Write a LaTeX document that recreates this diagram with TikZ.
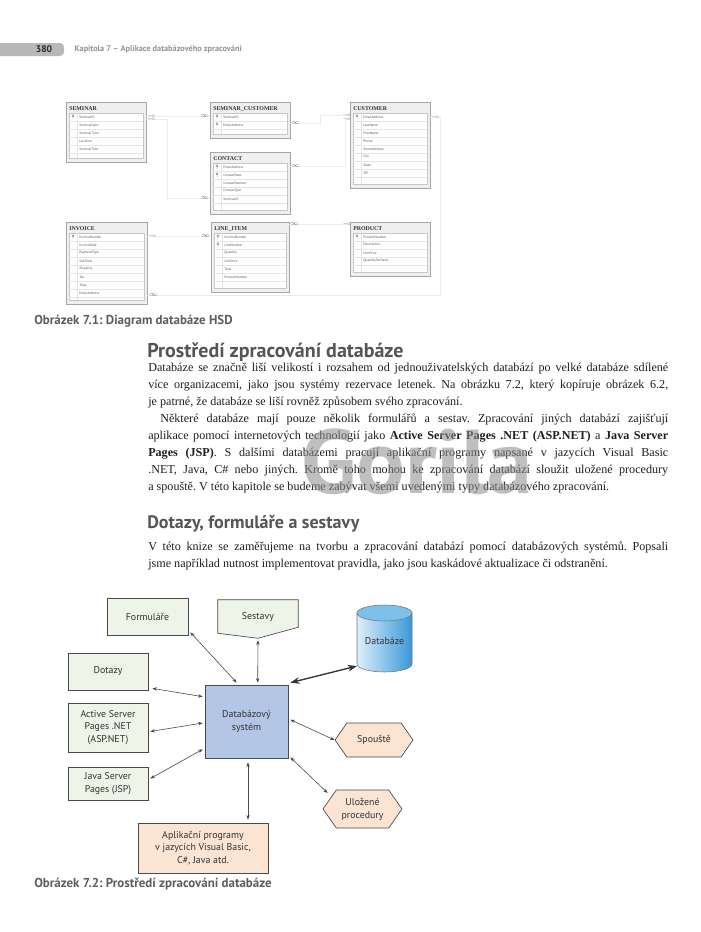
\documentclass[tikz,border=0pt]{standalone}
\usepackage{fontspec}
\setmainfont{Liberation Serif}
\setsansfont{PT Sans}
\usepackage{amssymb}
\usetikzlibrary{positioning,arrows.meta,calc,fit,shapes.geometric,shapes.symbols}
\definecolor{boxgreen}{HTML}{EEF4E8}
\definecolor{boxpeach}{HTML}{FBE4D2}
\definecolor{boxblue}{HTML}{B3C6E6}
\definecolor{edge}{HTML}{4A4A4A}
\definecolor{headgray}{HTML}{555555}
\definecolor{capgray}{HTML}{5E5E5E}
\definecolor{tblline}{HTML}{A6A6A6}
\definecolor{tblfill}{HTML}{EFEFEF}
\definecolor{cylLight}{HTML}{DCEFFB}
\definecolor{cylDark}{HTML}{3A98D8}
\definecolor{cylTop}{HTML}{7CC0EC}

% ER table: name, left, top, right, bottom, title, rows (key/field)
\newcommand{\dbtable}[7]{%
  \node[tblframe, fit={(#2,#3) (#4,#5)}] (#1) {};
  \node[tbltitle, anchor=west] (#1-title) at (#2+3,#3+7) {#6};
  \draw[tblinner] (#2+3,#3+11) rectangle (#4-3,#5-4);
  \draw[tblrow] (#2+11,#3+11) -- (#2+11,#5-4);
  \foreach \k/\fld [count=\i] in {#7} {
    \pgfmathsetmacro{\ry}{#3+15+(\i-1)*8}
    \draw[tblrow] (#2+3,\ry+4) -- (#4-3,\ry+4);
    \node[tblfield, anchor=west] at (#2+13,\ry) {\fld};
    \ifnum\k=1
      \draw[keymark] (#2+7,\ry-1.2) circle[radius=1.1] (#2+7,\ry-0.1) -- (#2+7,\ry+2.2);
    \fi
  }%
}

\begin{document}
\frenchspacing
\begin{tikzpicture}[
  x=0.75pt, y=-0.75pt,
  tblframe/.style={draw=tblline, fill=tblfill, line width=0.5pt, inner sep=0pt},
  tbltitle/.style={font=\fontsize{4.4pt}{5pt}\selectfont\bfseries, text=black!80, inner sep=0pt},
  tblinner/.style={draw=black!22, fill=white, line width=0.3pt},
  tblrow/.style={draw=black!10, line width=0.25pt},
  tblfield/.style={font=\sffamily\fontsize{2.6pt}{3pt}\selectfont, text=black!65, inner sep=0pt},
  keymark/.style={draw=black!55, line width=0.3pt},
  rel/.style={draw=black!42, double=black!8, double distance=0.45pt, line width=0.35pt},
  endmark/.style={font=\fontsize{4pt}{4pt}\selectfont, text=black!55, inner sep=0pt},
  body/.style={font=\fontsize{9.1pt}{12.75pt}\selectfont, text=black!88, inner sep=0pt,
               text width=390pt, align=justify},
  caption/.style={font=\sffamily\bfseries\fontsize{9.7pt}{11pt}\selectfont, text=capgray, inner sep=0pt},
  gbox/.style={draw=edge, fill=boxgreen, line width=0.5pt, font=\sffamily\fontsize{7.4pt}{9.6pt}\selectfont,
               text=black!80, align=center, inner sep=1pt},
  pbox/.style={draw=edge, fill=boxpeach, line width=0.5pt, font=\sffamily\fontsize{7.4pt}{9.6pt}\selectfont,
               text=black!80, align=center, inner sep=1pt},
  hexa/.style={pbox, shape=signal, signal to=east and west, signal pointer angle=110},
  lbl/.style={font=\sffamily\fontsize{7.4pt}{9.6pt}\selectfont, text=black!80, align=center, inner sep=0pt},
  link/.style={{Stealth[length=3.4pt,width=2.6pt]}-{Stealth[length=3.4pt,width=2.6pt]}, draw=edge, line width=0.45pt},
  biglink/.style={{Stealth[length=7pt,width=5pt]}-{Stealth[length=7pt,width=5pt]}, draw=black!80, line width=1pt}
]
\useasboundingbox (0,0) rectangle (700,932);
\fill[white] (0,0) rectangle (700,932);

% Running head
\fill[black!28, rounded corners=3pt] (-6,43) rectangle (64,56);
\node[font=\sffamily\bfseries\fontsize{7.2pt}{8pt}\selectfont, text=black!85] (pageno) at (44,49.5) {380};
\node[font=\sffamily\bfseries\fontsize{6.2pt}{7pt}\selectfont, text=black!42, anchor=west] (runhead) at (70,49.5)
  {Kapitola 7 – Aplikace databázového zpracování};

% ER diagram
\dbtable{seminar}{66}{102}{146}{162}{SEMINAR}{1/SeminarID,0/SeminarDate,0/SeminarTime,0/Location,0/SeminarTitle}
\dbtable{semcust}{210}{102}{290}{138}{SEMINAR\_CUSTOMER}{1/SeminarID,1/EmailAddress}
\dbtable{contact}{210}{152}{290}{214}{CONTACT}{1/EmailAddress,1/ContactDate,0/ContactNumber,0/ContactType,0/SeminarID}
\dbtable{customer}{350}{102}{430}{188}{CUSTOMER}{1/EmailAddress,0/LastName,0/FirstName,0/Phone,0/StreetAddress,0/City,0/State,0/ZIP}
\dbtable{invoice}{66}{222}{147}{304}{INVOICE}{1/InvoiceNumber,0/InvoiceDate,0/PaymentType,0/SubTotal,0/Shipping,0/Tax,0/Total,0/EmailAddress}
\dbtable{lineitem}{211}{222}{289}{292}{LINE\_ITEM}{1/InvoiceNumber,1/LineNumber,0/Quantity,0/UnitPrice,0/Total,0/ProductNumber}
\dbtable{product}{350}{222}{430}{276}{PRODUCT}{1/ProductNumber,0/Description,0/UnitPrice,0/QuantityOnHand}

% Relationships
\draw[rel] ($(seminar.north east)+(0,15)$) -- ($(semcust.north west)+(0,15)$);
\draw[rel] ($(seminar.north east)+(0,18)$) -- ++(21,0) |- ($(contact.north west)+(0,47)$);
\draw[rel] ($(semcust.north east)+(0,22)$) -- ++(30,0) |- ($(customer.north west)+(0,14)$);
\draw[rel] ($(contact.north east)+(0,15)$) -- ++(55,0) |- ($(customer.north west)+(0,18)$);
\draw[rel] ($(customer.north east)+(0,16)$) -- ++(10,0) |- ($(invoice.north east)+(0,74)$);
\draw[rel] ($(invoice.north east)+(0,15)$) -- ($(lineitem.north west)+(0,15)$);
\draw[rel] ($(lineitem.north east)+(0,3)$) -- ($(product.north west)+(0,3)$);

% Relationship ends
\node[endmark] at ($(seminar.north east)+(5,14.6)$) {$\multimap$};
\node[endmark] at ($(seminar.north east)+(5,17.6)$) {$\multimap$};
\node[endmark] at ($(semcust.north west)+(-5,14.6)$) {$\infty$};
\node[endmark] at ($(contact.north west)+(-5,46.6)$) {$\infty$};
\node[endmark] at ($(semcust.north east)+(5,21.6)$) {$\infty$};
\node[endmark] at ($(contact.north east)+(5,14.6)$) {$\infty$};
\node[endmark] at ($(customer.north west)+(-3,13.6)$) {$\multimap$};
\node[endmark] at ($(customer.north west)+(-3,17.6)$) {$\multimap$};
\node[endmark] at ($(customer.north east)+(5,15.6)$) {$\multimap$};
\node[endmark] at ($(invoice.north east)+(6,73.6)$) {$\infty$};
\node[endmark] at ($(invoice.north east)+(5,14.6)$) {$\multimap$};
\node[endmark] at ($(lineitem.north west)+(-5,14.6)$) {$\infty$};
\node[endmark] at ($(lineitem.north east)+(5,2.6)$) {$\infty$};
\node[endmark] at ($(product.north west)+(-3,2.6)$) {$\multimap$};

\node[caption, anchor=west] (cap1) at (34,321) {Obrázek 7.1: Diagram databáze HSD};

% Section text
\node[font=\sffamily\bfseries\fontsize{15pt}{17pt}\selectfont, text=headgray, anchor=west, inner sep=0pt]
  (head1) at (147,352) {Prostředí zpracování databáze};
\node[body, anchor=north west] (para1) at (148,362.5)
  {Databáze se značně liší velikostí i rozsahem od jednouživatelských databází po velké databáze sdílené\linebreak
   více organizacemi, jako jsou systémy rezervace letenek. Na obrázku 7.2, který kopíruje obrázek 6.2,\linebreak
   je patrné, že databáze se liší rovněž způsobem svého zpracování.\par
   \hspace*{9pt}Některé databáze mají pouze několik formulářů a sestav. Zpracování jiných databází zajišťují\linebreak
   aplikace pomocí internetových technologií jako \textbf{Active Server Pages .NET (ASP.NET)} a \textbf{Java Server}\linebreak
   \textbf{Pages (JSP)}. S dalšími databázemi pracují aplikační programy napsané v jazycích Visual Basic\linebreak
   .NET, Java, C\# nebo jiných. Kromě toho mohou ke zpracování databází sloužit uložené procedury\linebreak
   a spouště. V této kapitole se budeme zabývat všemi uvedenými typy databázového zpracování.};
\node[font=\sffamily\bfseries\fontsize{13.5pt}{15pt}\selectfont, text=headgray, anchor=west, inner sep=0pt]
  (head2) at (147,524) {Dotazy, formuláře a sestavy};
\node[body, anchor=north west] (para2) at (148,541.5)
  {V této knize se zaměřujeme na tvorbu a zpracování databází pomocí databázových systémů. Popsali\linebreak
   jsme například nutnost implementovat pravidla, jako jsou kaskádové aktualizace či odstranění.};

% Processing environment
\node[gbox, minimum width=60.75pt, minimum height=27.75pt] (form) at (147.5,616.5) {Formuláře};
\node[lbl, minimum width=60pt, minimum height=25.5pt] (sest) at (258,617) {Sestavy};
\node[gbox, minimum width=60pt, minimum height=27.75pt] (dotazy) at (108,671.5) {Dotazy};
\node[gbox, minimum width=62.25pt, minimum height=54.75pt, fill=boxblue] (sys) at (246.5,721.5) {Databázový\\systém};
\node[gbox, minimum width=60pt, minimum height=36.75pt] (asp) at (108,727.5) {Active Server\\Pages .NET\\(ASP.NET)};
\node[gbox, minimum width=60pt, minimum height=24.75pt] (jsp) at (108,783.5) {Java Server\\Pages (JSP)};
\node[pbox, minimum width=97.5pt, minimum height=37.5pt] (apps) at (203,848) {Aplikační programy\\v jazycích Visual Basic,\\C\#, Java atd.};
\node[hexa, minimum width=58.5pt, minimum height=25.5pt] (spoust) at (374,740) {Spouště};
\node[hexa, minimum width=59.25pt, minimum height=28.5pt] (ulozene) at (362.5,809) {Uložené\\procedury};

% Sestavy document shape
\filldraw[draw=edge, fill=boxgreen, line width=0.5pt]
  (sest.north west) -- (sest.north east) -- ($(sest.south east)+(0,-7)$)
  -- ($(sest.south)+(0,4)$) -- ($(sest.south west)+(0,-1)$) -- cycle;
\node[lbl] at (sest.center) {Sestavy};

% Database cylinder
\shade[left color=cylLight, right color=cylDark, draw=black!55, line width=0.4pt]
  (357,613) -- (357,664) arc[start angle=180, end angle=0, x radius=27.5, y radius=8] -- (412,613) -- cycle;
\filldraw[fill=cylTop, draw=black!55, line width=0.4pt] (384.5,613) ellipse[x radius=27.5, y radius=8];
\node[lbl] (dbase) at (384.5,641) {Databáze};
\coordinate (dbase-in) at (357,666);

% Connectors
\draw[link] ($(form.south east)+(2,-3)$) -- ($(sys.north west)+(32,-2)$);
\draw[link] ($(sest.south)+(0,6)$) -- ($(sys.north west)+(53,-2)$);
\draw[biglink] ($(sys.north east)+(2,-2)$) -- (dbase-in);
\draw[link] ($(dotazy.south east)+(4,-2)$) -- ($(sys.north west)+(-2,12)$);
\draw[link] ($(asp.east)+(2,4)$) -- ($(sys.west)+(-2,1.5)$);
\draw[link] ($(jsp.east)+(2,-5)$) -- ($(sys.south west)+(-2,-9)$);
\draw[link] ($(sys.south)+(1.5,4)$) -- ($(apps.north)+(45,-3)$);
\draw[link] ($(sys.north east)+(2,35)$) -- (spoust.west);
\draw[link] ($(sys.south east)+(2,-1)$) -- ($(ulozene.west)+(5,-16)$);

\node[caption, anchor=west] (cap2) at (34,884) {Obrázek 7.2: Prostředí zpracování databáze};

% Watermark
\node[font=\sffamily\bfseries\fontsize{68pt}{70pt}\selectfont, text=black!45, opacity=0.55, inner sep=0pt]
  (mark) at (417,462) {Gorila};
\end{tikzpicture}
\end{document}
